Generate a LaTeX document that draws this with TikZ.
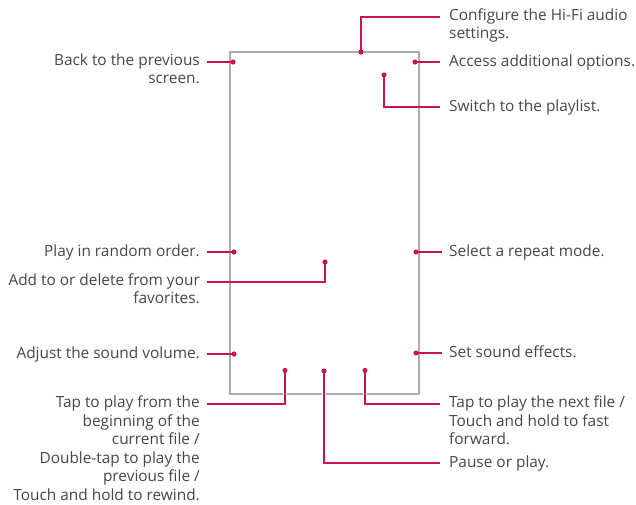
\documentclass[tikz,border=0pt]{standalone}
\usepackage{fontspec}
\setmainfont{Open Sans}
\definecolor{lgred}{HTML}{C8144B}
\definecolor{txt}{HTML}{474747}
\definecolor{framec}{HTML}{ACACAC}
\begin{document}
\begin{tikzpicture}[x=1pt,y=-1pt,
  lbl/.style={inner sep=0pt, text=txt, font=\fontsize{15.4}{18.5}\selectfont, execute at begin node=\strut},
  lft/.style={lbl, anchor=north east, align=right},
  rgt/.style={lbl, anchor=north west, align=left},
  conn/.style={draw=lgred, line width=1.3pt},
  halo/.style={draw=white, line width=4.5pt},
  dotp/.style={circle, fill=lgred, inner sep=0pt, minimum size=4.8pt},
  screenbox/.style={draw=framec, line width=1.2pt}
]
\useasboundingbox (0,0) rectangle (636,504);
\fill[white] (0,0) rectangle (636,504);

% screen outline
\draw[screenbox] (230,52) rectangle (419,394);

% dots
\node[dotp] (hifi) at (361,52) {};
\node[dotp] (menu) at (415,62) {};
\node[dotp] (list) at (384,75) {};
\node[dotp] (back) at (233,62) {};
\node[dotp] (rand) at (234,252) {};
\node[dotp] (fav) at (325,262) {};
\node[dotp] (rep) at (416,252) {};
\node[dotp] (vol) at (234,354) {};
\node[dotp] (fx) at (416,353) {};
\node[dotp] (prev) at (285,370.5) {};
\node[dotp] (play) at (324,371) {};
\node[dotp] (next) at (365,370.5) {};

% free ends
\coordinate (hifiE) at (440,17);
\coordinate (menuE) at (440,62);
\coordinate (listE) at (440,107);
\coordinate (backE) at (207,62);
\coordinate (randE) at (207,252);
\coordinate (favE) at (207,282);
\coordinate (repE) at (442,252);
\coordinate (volE) at (207,354);
\coordinate (fxE) at (442,353);
\coordinate (prevE) at (207,404);
\coordinate (playE) at (440,463);
\coordinate (nextE) at (440,404);

% halos where connectors cross the screen edge
\draw[halo] (285,389) -- (285,399);
\draw[halo] (324,389) -- (324,399);
\draw[halo] (365,389) -- (365,399);

% connectors
\draw[conn] (hifi.center) |- (hifiE);
\draw[conn] (menu.center) -- (menuE);
\draw[conn] (list.center) |- (listE);
\draw[conn] (back.center) -- (backE);
\draw[conn] (rand.center) -- (randE);
\draw[conn] (fav.center) |- (favE);
\draw[conn] (rep.center) -- (repE);
\draw[conn] (vol.center) -- (volE);
\draw[conn] (fx.center) -- (fxE);
\draw[conn] (prev.center) |- (prevE);
\draw[conn] (play.center) |- (playE);
\draw[conn] (next.center) |- (nextE);

% redraw dots on top
\foreach \d in {hifi,menu,list,back,rand,fav,rep,vol,fx,prev,play,next}
  \fill[lgred] (\d.center) circle (2.4pt);

% labels
\node[rgt] (thifi) at (449,8.2) {Configure the Hi-Fi audio\\settings.};
\node[rgt] (tmenu) at (449,53.2) {Access additional options.};
\node[rgt] (tlist) at (449,98.2) {Switch to the playlist.};
\node[lft] (tback) at (200,53.2) {Back to the previous\\screen.};
\node[lft] (trand) at (200,243.2) {Play in random order.};
\node[lft] (tfav) at (200,273.2) {Add to or delete from your\\favorites.};
\node[rgt] (trep) at (449,243.2) {Select a repeat mode.};
\node[lft] (tvol) at (200,345.2) {Adjust the sound volume.};
\node[rgt] (tfx) at (449,344.2) {Set sound effects.};
\node[lft] (tprev) at (200,395.7) {Tap to play from the\\beginning of the\\current file /\\Double-tap to play the\\previous file /\\Touch and hold to rewind.};
\node[rgt] (tnext) at (449,395.7) {Tap to play the next file /\\Touch and hold to fast\\forward.};
\node[rgt] (tplay) at (449,454.2) {Pause or play.};
\end{tikzpicture}
\end{document}
